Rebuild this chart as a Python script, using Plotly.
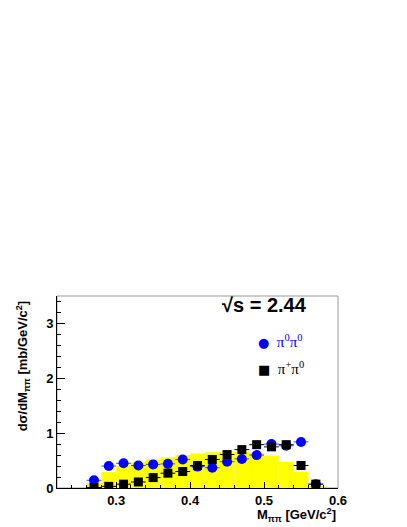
import numpy as np
import plotly.graph_objects as go

# pi0 pi0 and pi+ pi0 invariant-mass spectra at sqrt(s) = 2.44
m_pipi = [0.27, 0.29, 0.31, 0.33, 0.35, 0.37, 0.39, 0.41,
          0.43, 0.45, 0.47, 0.49, 0.51, 0.53, 0.55, 0.57]
xs_pi0pi0 = [0.14, 0.40, 0.45, 0.41, 0.43, 0.44, 0.52, 0.39,
             0.37, 0.48, 0.53, 0.60, 0.80, 0.77, 0.84, 0.07]
xs_pipi0 = [0.01, 0.03, 0.07, 0.11, 0.19, 0.27, 0.30, 0.41,
            0.52, 0.61, 0.70, 0.79, 0.75, 0.79, 0.41, 0.07]
bin_half = 0.01

# yellow reference histogram (bin low edges, contents)
hist_edges = [0.26, 0.28, 0.30, 0.32, 0.34, 0.36, 0.38, 0.40,
              0.42, 0.44, 0.46, 0.48, 0.50, 0.52, 0.54, 0.56]
hist_vals = [0.09, 0.29, 0.40, 0.47, 0.52, 0.56, 0.60, 0.63,
             0.65, 0.66, 0.66, 0.64, 0.59, 0.48, 0.30, 0.04]
hist_width = 0.02

FONT = "Liberation Sans, Arial, sans-serif"
SERIF = "Liberation Serif, Times New Roman, serif"

fig = go.Figure()

fig.add_trace(go.Bar(
    x=np.asarray(hist_edges) + hist_width / 2, y=hist_vals,
    width=hist_width,
    marker=dict(color="#ffff00", line=dict(width=0)),
    showlegend=False, hoverinfo="skip",
))

fig.add_trace(go.Scatter(
    x=m_pipi, y=xs_pi0pi0, mode="markers", name="π0π0",
    marker=dict(symbol="circle", size=10, color="#0000ff"),
    error_x=dict(type="constant", value=bin_half, color="#3355ff",
                 thickness=1, width=0),
    showlegend=False,
))

fig.add_trace(go.Scatter(
    x=m_pipi, y=xs_pipi0, mode="markers", name="π+π0",
    marker=dict(symbol="square", size=9, color="#000000"),
    error_x=dict(type="constant", value=bin_half, color="#000000",
                 thickness=1, width=0),
    showlegend=False,
))

# light frame around the plot area
fig.add_shape(type="rect", xref="paper", yref="paper", x0=0, x1=1, y0=0, y1=1,
              line=dict(color="#999999", width=1), layer="below")

fig.add_annotation(
    text="<b>√s = 2.44</b>", xref="paper", yref="paper",
    x=0.58, y=0.955, xanchor="left", yanchor="middle", showarrow=False,
    font=dict(family=FONT, size=20, color="#000000"),
)

# legend entries drawn as text
legend_rows = [
    ("<span style='font-family:DejaVu Sans;font-size:13px'>●</span>&nbsp;&nbsp;"
     "π<sup>0</sup>π<sup>0</sup>", "#0000ff", 0.765),
    ("<span style='font-family:DejaVu Sans;font-size:13px;color:#000000'>■</span>&nbsp;&nbsp;"
     "π<sup>+</sup>π<sup>0</sup>", "#000000", 0.625),
]
for txt, col, yy in legend_rows:
    fig.add_annotation(
        text=txt, xref="paper", yref="paper", x=0.707, y=yy,
        xanchor="left", yanchor="middle", showarrow=False,
        font=dict(family=SERIF, size=15, color=col),
    )

fig.add_annotation(
    text="<b>dσ/dM<sub>ππ</sub> [mb/GeV/c<sup>2</sup>]</b>",
    xref="paper", yref="paper", x=-0.123, y=0.985,
    xanchor="center", yanchor="top", textangle=-90, showarrow=False,
    font=dict(family=FONT, size=13, color="#000000"),
)
fig.add_annotation(
    text="<b>M<sub>ππ</sub> [GeV/c<sup>2</sup>]</b>",
    xref="paper", yref="paper", x=1.0, y=-0.14,
    xanchor="right", yanchor="middle", showarrow=False,
    font=dict(family=FONT, size=13, color="#000000"),
)

fig.update_layout(
    width=407, height=527,
    margin=dict(l=57, r=69, t=296, b=39),
    paper_bgcolor="#ffffff", plot_bgcolor="#ffffff",
    font=dict(family=FONT, size=13, color="#000000"),
    barmode="overlay",
    showlegend=False,
    xaxis=dict(
        range=[0.22, 0.6], tick0=0.3, dtick=0.1, tickformat=".1f",
        ticks="inside", ticklen=6, tickcolor="#000000",
        minor=dict(ticks="inside", ticklen=3, dtick=0.02, tick0=0.3,
                   tickcolor="#000000"),
        showline=True, linecolor="#000000", linewidth=1,
        showgrid=False, zeroline=False,
        tickfont=dict(family=FONT, size=13, weight="bold"),
    ),
    yaxis=dict(
        range=[0, 3.5], tick0=0, dtick=1,
        ticks="inside", ticklen=8, tickcolor="#000000",
        minor=dict(ticks="inside", ticklen=4, dtick=0.2, tickcolor="#000000"),
        showline=True, linecolor="#000000", linewidth=1,
        showgrid=False, zeroline=False,
        tickfont=dict(family=FONT, size=13, weight="bold"),
    ),
)

fig.write_html("out.html",
               config={"displayModeBar": False},
               post_script="document.body.style.margin='0';")
